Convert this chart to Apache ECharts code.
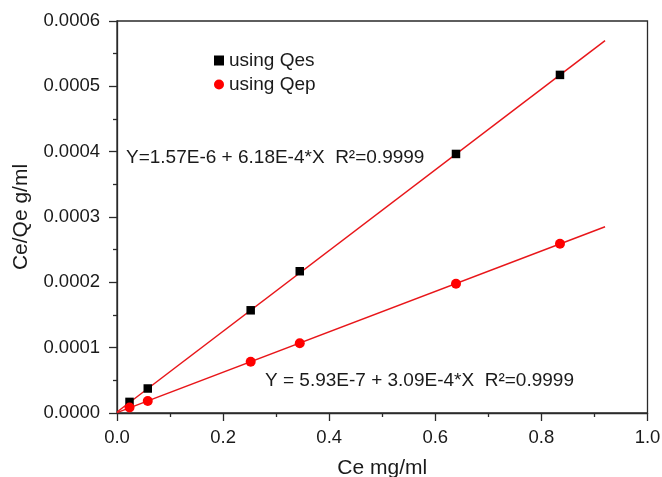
<!DOCTYPE html>
<html>
<head>
<meta charset="utf-8">
<script src="https://cdn.jsdelivr.net/npm/echarts@6/dist/echarts.min.js"></script>
<style>
html,body{margin:0;padding:0;background:#fff;}
#c{width:662px;height:477px;}
</style>
</head>
<body>
<div id="c"></div>
<script>
// Data
var ce = [0.0236, 0.058, 0.252, 0.3445, 0.639, 0.835];
var qes = [1.7e-5, 3.75e-5, 1.572e-4, 2.17e-4, 3.965e-4, 5.175e-4];
var qep = [8.5e-6, 1.84e-5, 7.85e-5, 1.067e-4, 1.978e-4, 2.59e-4];
// Fitted lines (end points)
var fitX = [0, 0.92];
var fitQes = [1.57e-6, 5.70e-4];
var fitQep = [5.93e-7, 2.85e-4];
var xTicks = ['0.0', '0.2', '0.4', '0.6', '0.8', '1.0'];
var yTicks = ['0.0000', '0.0001', '0.0002', '0.0003', '0.0004', '0.0005', '0.0006'];
var eqQes = 'Y=1.57E-6 + 6.18E-4*X  R\u00B2=0.9999';
var eqQep = 'Y = 5.93E-7 + 3.09E-4*X  R\u00B2=0.9999';
var seriesNames = ['using Qes', 'using Qep'];

function pairs(xs, ys) { return xs.map(function (x, i) { return [x, ys[i]]; }); }

var FONT = '"Liberation Sans", Arial, sans-serif';
var chart = echarts.init(document.getElementById('c'), null, {renderer: 'canvas'});
var lineColor = '#e8161a';
var axisColor = '#2a2a2a';
var textColor = '#1a1a1a';

chart.setOption({
  animation: false,
  backgroundColor: '#fff',
  textStyle: {fontFamily: FONT},
  grid: {left: 117, right: 14.5, top: 21, bottom: 64, containLabel: false, outerBoundsMode: 'none',
    show: true, borderColor: axisColor, borderWidth: 1.3, backgroundColor: 'transparent'},
  legend: {
    orient: 'vertical', left: 209, top: 46, itemWidth: 10, itemHeight: 10, itemGap: 5,
    textStyle: {fontSize: 19, color: textColor, fontFamily: FONT},
    data: [
      {name: seriesNames[0], icon: 'rect', itemStyle: {color: '#000'}},
      {name: seriesNames[1], icon: 'circle', itemStyle: {color: '#ff0000'}}
    ]
  },
  xAxis: {
    type: 'value', min: 0, max: 1.0, interval: 0.2,
    name: 'Ce mg/ml', nameLocation: 'middle', nameGap: 45,
    nameTextStyle: {fontSize: 21, color: textColor, fontFamily: FONT},
    axisLine: {lineStyle: {color: axisColor, width: 1.3}},
    axisTick: {inside: false, length: 8, lineStyle: {color: axisColor, width: 1.3}},
    minorTick: {show: true, splitNumber: 2, length: 4, lineStyle: {color: axisColor, width: 1.3}},
    splitLine: {show: false},
    axisLabel: {margin: 15, fontSize: 18.5, color: textColor, fontFamily: FONT,
      formatter: function (v) { return xTicks[Math.round(v / 0.2)]; }}
  },
  yAxis: {
    type: 'value', min: 0, max: 0.0006, interval: 0.0001,
    name: 'Ce/Qe g/ml', nameLocation: 'middle', nameGap: 85,
    nameTextStyle: {fontSize: 21, color: textColor, fontFamily: FONT},
    axisLine: {lineStyle: {color: axisColor, width: 1.3}},
    axisTick: {inside: false, length: 8, lineStyle: {color: axisColor, width: 1.3}},
    minorTick: {show: true, splitNumber: 2, length: 4, lineStyle: {color: axisColor, width: 1.3}},
    splitLine: {show: false},
    axisLabel: {margin: 17, fontSize: 18.5, color: textColor, fontFamily: FONT,
      formatter: function (v) { return yTicks[Math.round(v / 0.0001)]; }}
  },
  series: [
    {type: 'line', data: pairs(fitX, fitQes), showSymbol: false, symbol: 'none',
      lineStyle: {color: lineColor, width: 1.5}, z: 1, silent: true},
    {type: 'line', data: pairs(fitX, fitQep), showSymbol: false, symbol: 'none',
      lineStyle: {color: lineColor, width: 1.5}, z: 1, silent: true},
    {name: seriesNames[0], type: 'scatter', data: pairs(ce, qes), symbol: 'rect', symbolSize: 8.5,
      itemStyle: {color: '#000', opacity: 1}, z: 3},
    {name: seriesNames[1], type: 'scatter', data: pairs(ce, qep), symbol: 'circle', symbolSize: 10,
      itemStyle: {color: '#ff0000', opacity: 1}, z: 3}
  ],
  graphic: [
    {type: 'text', x: 126, y: 158, style: {text: eqQes, font: '19px ' + FONT, fill: textColor, verticalAlign: 'middle'}},
    {type: 'text', x: 265, y: 381, style: {text: eqQep, font: '19px ' + FONT, fill: textColor, verticalAlign: 'middle'}}
  ]
});
</script>
</body>
</html>
